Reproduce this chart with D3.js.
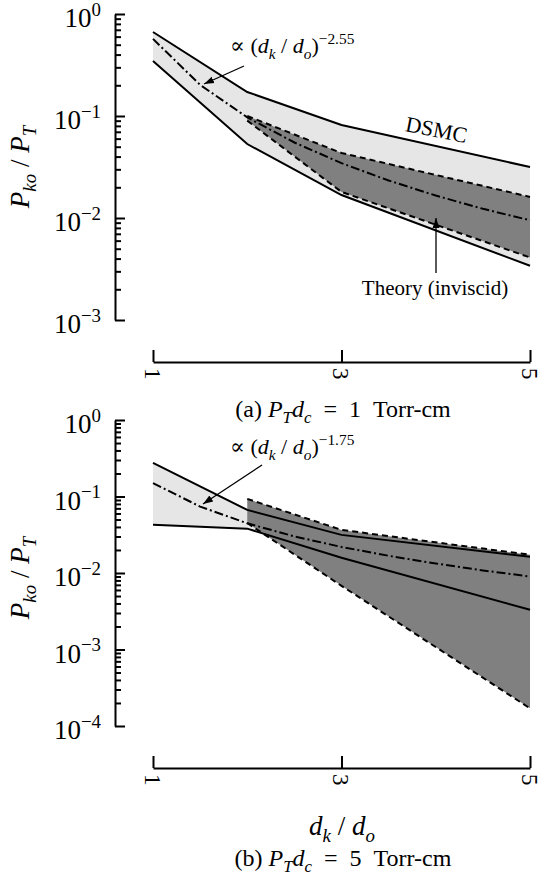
<!DOCTYPE html>
<html>
<head>
<meta charset="utf-8">
<script src="https://cdn.jsdelivr.net/npm/d3@7"></script>
<style>
  body { margin: 0; background: #fff; }
  svg { display: block; }
  text { font-family: "Liberation Serif", "Times New Roman", "DejaVu Serif", serif; }
</style>
</head>
<body>
<svg id="chart" width="551" height="883"></svg>
<script>
// d_k/d_o stations where the curves were sampled
const xDsmc = [1, 2, 3, 5];
const xTheory = [2, 3, 5];
const xFit = [1, 1.5, 2, 2.5, 3, 3.5, 4, 4.5, 5];
const xTicks = [1, 3, 5];

// (a) P_T d_c = 1 Torr-cm
const dsmcHiA = [0.666, 0.172, 0.0816, 0.0316];
const dsmcLoA = [0.346, 0.0531, 0.0168, 0.0034];
const theoryHiA = [0.1, 0.0434, 0.0161];
const theoryLoA = [0.09, 0.018, 0.0041];
const fitA = [0.57, 0.202, 0.097, 0.055, 0.0345, 0.0233, 0.0166, 0.0123, 0.0095];

// (b) P_T d_c = 5 Torr-cm
const dsmcHiB = [0.275, 0.0668, 0.0315, 0.0163];
const dsmcLoB = [0.0426, 0.038, 0.0158, 0.0033];
const theoryHiB = [0.093, 0.0366, 0.0173];
const theoryLoB = [0.045, 0.0068, 0.00017];
const fitB = [0.15, 0.0738, 0.0446, 0.0301, 0.0219, 0.0168, 0.0133, 0.0108, 0.009];

const FONT = '"Liberation Serif", "Times New Roman", "DejaVu Serif", serif';
const svg = d3.select('#chart').attr('font-family', FONT);

// arrow head used by the annotations
svg.append('defs').append('marker')
    .attr('id', 'head')
    .attr('viewBox', '0 0 10 10')
    .attr('refX', 10).attr('refY', 5)
    .attr('markerWidth', 10).attr('markerHeight', 10)
    .attr('markerUnits', 'userSpaceOnUse')
    .attr('orient', 'auto')
  .append('path')
    .attr('d', 'M0,1.5L10,5L0,8.5Z')
    .attr('fill', '#000');

/** writes a run of plain / italic / sub / sup pieces into a text node */
function tex(text, runs, size) {
    let shift = 0;
    text.attr('font-size', size).attr('font-family', FONT);
    runs.forEach(([s, k]) => {
        let t = text.append('tspan').text(s);
        let target = k.includes('sub') ? size * 0.25 : k.includes('sup') ? -size * 0.42 : 0;
        if (target !== shift) t.attr('dy', target - shift);
        shift = target;
        if (k.includes('i')) t.attr('font-style', 'italic');
        if (k.includes('sub') || k.includes('sup')) t.attr('font-size', size * 0.7);
    });
    return text;
}

function zip(xs, ys) { return xs.map((x, i) => [x, ys[i]]); }

/** draws one panel; p holds its data arrays and where it sits */
function panel(p) {
    let g = svg.append('g');
    let x = d3.scaleLinear().domain([1, 5]).range([153, 530]);
    let y = d3.scaleLog().domain([1, p.yMin]).range([p.top, p.bottom]);

    let line = d3.line().x(d => x(d[0])).y(d => y(d[1]));
    let band = d3.area().x(d => x(d[0])).y0(d => y(d[2])).y1(d => y(d[1]));

    // DSMC envelope (light) and inviscid theory envelope (dark)
    g.append('path')
        .attr('d', band(xDsmc.map((v, i) => [v, p.dsmcHi[i], p.dsmcLo[i]])))
        .attr('fill', '#e6e6e6');
    g.append('path')
        .attr('d', band(xTheory.map((v, i) => [v, p.theoryHi[i], p.theoryLo[i]])))
        .attr('fill', '#808080');

    [p.dsmcHi, p.dsmcLo].forEach(s => g.append('path')
        .attr('d', line(zip(xDsmc, s)))
        .attr('fill', 'none').attr('stroke', '#000').attr('stroke-width', 2));
    [p.theoryHi, p.theoryLo].forEach(s => g.append('path')
        .attr('d', line(zip(xTheory, s)))
        .attr('fill', 'none').attr('stroke', '#000').attr('stroke-width', 2)
        .attr('stroke-dasharray', '6,4'));
    g.append('path')
        .attr('d', line(zip(xFit, p.fit)))
        .attr('fill', 'none').attr('stroke', '#000').attr('stroke-width', 2)
        .attr('stroke-dasharray', '9,3,2,3');

    // y axis: decades long, the rest short, ticks pointing into the plot
    let decades = y.ticks().filter(v => Math.abs(Math.log10(v) - Math.round(Math.log10(v))) < 1e-9);
    let minors = y.ticks().filter(v => !decades.includes(v));
    let ya = g.append('g').attr('transform', 'translate(115,0)');
    ya.call(d3.axisRight(y).tickValues(decades).tickSize(10).tickSizeOuter(0).tickFormat(''));
    ya.append('g').call(d3.axisRight(y).tickValues(minors).tickSize(6).tickSizeOuter(0).tickFormat(''))
        .select('.domain').remove();
    ya.selectAll('line, path').attr('stroke', '#000').attr('stroke-width', 2);

    decades.forEach(v => {
        let t = g.append('text')
            .attr('x', 101).attr('y', y(v) + 13)
            .attr('text-anchor', 'end');
        let e = Math.round(Math.log10(v));
        tex(t, [['10', ''], [e === 0 ? '0' : '\u2212' + (-e), 'sup']], 27);
    });

    // x axis
    let xa = g.append('g').attr('transform', `translate(0,${p.axisY})`);
    xa.call(d3.axisTop(x).tickValues(xTicks).tickSize(12).tickSizeOuter(0).tickFormat(''));
    xa.selectAll('line, path').attr('stroke', '#000').attr('stroke-width', 2);
    xTicks.forEach(v => g.append('text')
        .attr('transform', `translate(${x(v)},${p.axisY + 6}) rotate(90)`)
        .attr('dy', '0.35em')
        .attr('font-size', 23)
        .text(v));

    // y label
    tex(g.append('text')
        .attr('transform', `translate(29,${p.labelY}) rotate(-90)`)
        .attr('text-anchor', 'middle'),
        [['P', 'i'], ['ko', 'subi'], [' / ', ''], ['P', 'i'], ['T', 'subi']], 27);

    // power-law annotation and its arrow
    tex(g.append('text').attr('x', 230).attr('y', p.fitLabelY),
        [['\u221D (', ''], ['d', 'i'], ['k', 'subi'], [' / ', ''], ['d', 'i'], ['o', 'subi'], [')', ''], [p.fitExp, 'sup']], 22);
    g.append('line')
        .attr('x1', p.fitArrow[0]).attr('y1', p.fitArrow[1])
        .attr('x2', p.fitArrow[2]).attr('y2', p.fitArrow[3])
        .attr('stroke', '#000').attr('stroke-width', 1.3)
        .attr('marker-end', 'url(#head)');

    // caption
    tex(g.append('text').attr('x', 343).attr('y', p.captionY).attr('text-anchor', 'middle'),
        [['(' + p.tag + ') ', ''], ['P', 'i'], ['T', 'subi'], ['d', 'i'], ['c', 'subi'],
         ['\u2002=\u2002' + p.pd + '\u2002Torr-cm', '']], 24);
    return g;
}

let a = panel({
    tag: 'a', pd: 1, top: 14, bottom: 320, yMin: 1e-3, axisY: 362, labelY: 167,
    dsmcHi: dsmcHiA, dsmcLo: dsmcLoA, theoryHi: theoryHiA, theoryLo: theoryLoA, fit: fitA,
    fitExp: '\u22122.55', fitLabelY: 53, fitArrow: [244, 66, 204, 84], captionY: 417
});

a.append('text')
    .attr('transform', 'translate(435,137) rotate(11)')
    .attr('text-anchor', 'middle')
    .attr('font-size', 22)
    .text('DSMC');
a.append('text')
    .attr('x', 435).attr('y', 295)
    .attr('text-anchor', 'middle')
    .attr('font-size', 21)
    .text('Theory (inviscid)');
a.append('line')
    .attr('x1', 436).attr('y1', 273).attr('x2', 436).attr('y2', 218)
    .attr('stroke', '#000').attr('stroke-width', 1.3)
    .attr('marker-end', 'url(#head)');

panel({
    tag: 'b', pd: 5, top: 420, bottom: 726, yMin: 1e-4, axisY: 768, labelY: 578,
    dsmcHi: dsmcHiB, dsmcLo: dsmcLoB, theoryHi: theoryHiB, theoryLo: theoryLoB, fit: fitB,
    fitExp: '\u22121.75', fitLabelY: 454, fitArrow: [262, 465, 203, 504], captionY: 866
});

tex(svg.append('text').attr('x', 342).attr('y', 835).attr('text-anchor', 'middle'),
    [['d', 'i'], ['k', 'subi'], [' / ', ''], ['d', 'i'], ['o', 'subi']], 27);
</script>
</body>
</html>
